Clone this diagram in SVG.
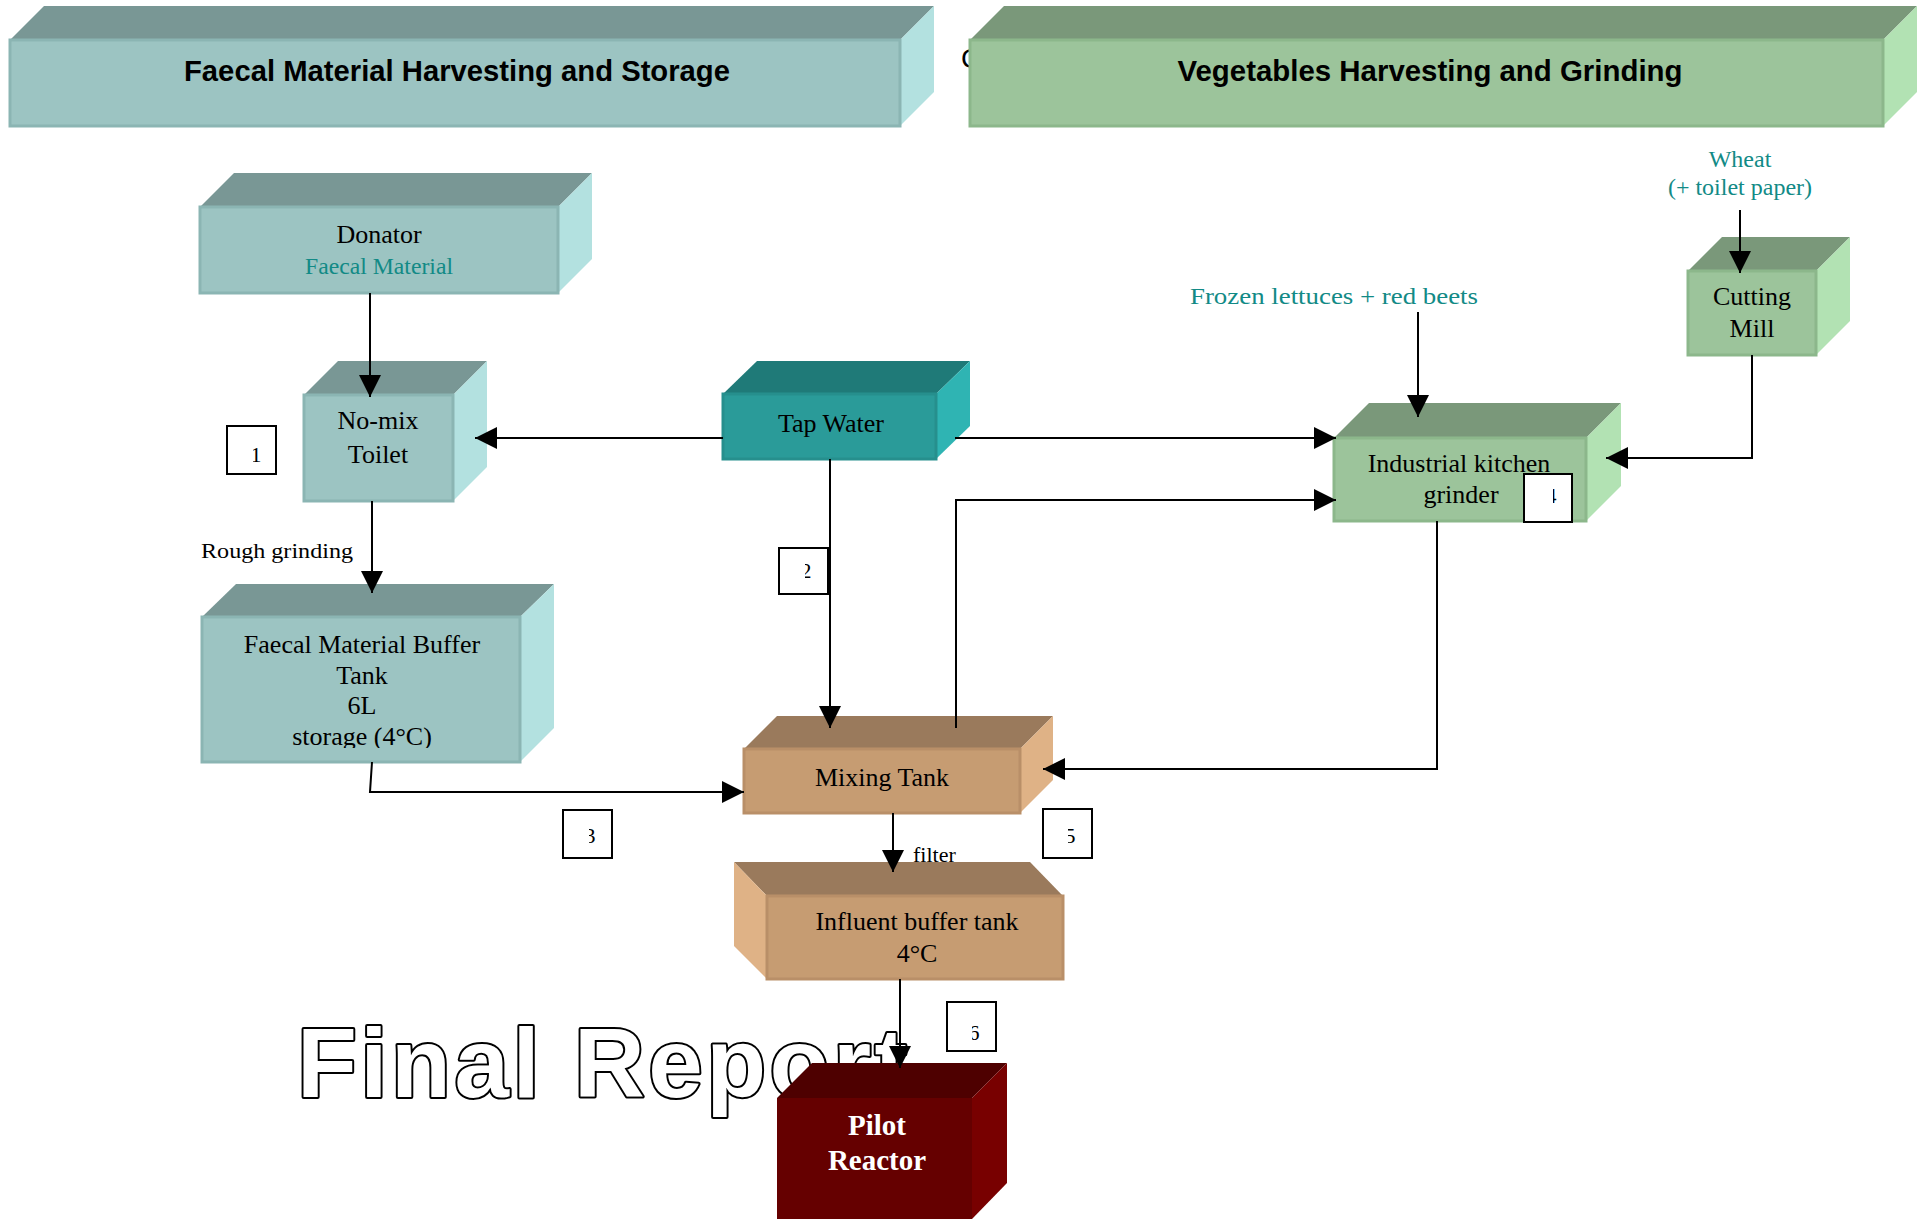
<svg xmlns="http://www.w3.org/2000/svg" width="1921" height="1219" viewBox="0 0 1921 1219">
<style>
.tf{fill:#9cc4c2;stroke:#8bb5b3;stroke-width:3}
.tt{fill:#799795}
.ts{fill:#b3e1e0}
.gf{fill:#9cc49b;stroke:#8cb78b;stroke-width:3}
.gt{fill:#7a987a}
.gs{fill:#b2e2b3}
.wf{fill:#2a9b99;stroke:#268f8d;stroke-width:3}
.wt{fill:#1f7a78}
.ws{fill:#2fb4b3}
.bf{fill:#c69c72;stroke:#b98f68;stroke-width:3}
.bt{fill:#9a7a5c}
.bs{fill:#dfb286}
.pf{fill:#650000}
.pt{fill:#4e0000}
.ps{fill:#780000}
.hd{font-family:"Liberation Sans",Arial,sans-serif;font-weight:bold;font-size:29px;fill:#000;text-anchor:middle}
.lb{font-family:"Liberation Serif","Times New Roman",serif;font-size:26px;fill:#000;text-anchor:middle}
.tl{font-family:"Liberation Serif","Times New Roman",serif;font-size:24px;fill:#128a86;text-anchor:middle}
.sm{font-family:"Liberation Serif","Times New Roman",serif;font-size:22px;fill:#000}
.nb{fill:#fff;stroke:#000;stroke-width:2}
.dg{font-family:"Liberation Serif","Times New Roman",serif;font-size:22px;fill:#000;text-anchor:middle}
.cn{fill:none;stroke:#000;stroke-width:2;marker-end:url(#ah)}
</style>
<defs>
<marker id="ah" markerUnits="userSpaceOnUse" markerWidth="22" markerHeight="22" refX="22" refY="11" orient="auto" viewBox="0 0 22 22">
<path d="M0,0 L22,11 L0,22 z" fill="#000"/>
</marker>
<clipPath id="c1"><rect x="253" y="420" width="30" height="60"/></clipPath>
<clipPath id="c2"><rect x="805" y="540" width="30" height="60"/></clipPath>
<clipPath id="c3"><rect x="589" y="805" width="30" height="60"/></clipPath>
<clipPath id="c4"><rect x="1553" y="470" width="30" height="60"/></clipPath>
<clipPath id="c5"><rect x="1068" y="805" width="30" height="60"/></clipPath>
<clipPath id="c6"><rect x="972" y="998" width="30" height="60"/></clipPath>
<clipPath id="cfm"><rect x="200" y="600" width="360" height="148"/></clipPath>
</defs>
<rect width="1921" height="1219" fill="#fff"/>

<text x="297" y="1097" font-family="'Liberation Sans',Arial,sans-serif" font-weight="bold" font-size="98" letter-spacing="3.5" fill="#fff" stroke="#000" stroke-width="4" stroke-linejoin="round" paint-order="stroke">Final Report</text>

<text x="961" y="68" font-family="'Liberation Sans',Arial,sans-serif" font-size="28" fill="#000">C</text>

<g id="hdr-faecal">
<polygon class="tt" points="10,40 44,6 934,6 900,40"/>
<polygon class="ts" points="900,40 934,6 934,92 900,126"/>
<rect class="tf" x="10" y="40" width="890" height="86"/>
<text class="hd" x="457" y="81" textLength="546" lengthAdjust="spacingAndGlyphs">Faecal Material Harvesting and Storage</text>
</g>

<g id="hdr-veg">
<polygon class="gt" points="970,40 1004,6 1917,6 1883,40"/>
<polygon class="gs" points="1883,40 1917,6 1917,92 1883,126"/>
<rect class="gf" x="970" y="40" width="913" height="86"/>
<text class="hd" x="1430" y="81" textLength="505" lengthAdjust="spacingAndGlyphs">Vegetables Harvesting and Grinding</text>
</g>

<g id="donator">
<polygon class="tt" points="200,207 234,173 592,173 558,207"/>
<polygon class="ts" points="558,207 592,173 592,259 558,293"/>
<rect class="tf" x="200" y="207" width="358" height="86"/>
<text class="lb" x="379" y="243">Donator</text>
<text class="tl" x="379" y="274" font-size="25" textLength="148" lengthAdjust="spacingAndGlyphs">Faecal Material</text>
</g>

<g id="nomix">
<polygon class="tt" points="304,395 338,361 487,361 453,395"/>
<polygon class="ts" points="453,395 487,361 487,467 453,501"/>
<rect class="tf" x="304" y="395" width="149" height="106"/>
<text class="lb" x="378" y="429">No-mix</text>
<text class="lb" x="378" y="463">Toilet</text>
</g>

<g id="tapwater">
<polygon class="wt" points="723,394 757,361 970,361 936,394"/>
<polygon class="ws" points="936,394 970,361 970,426 936,459"/>
<rect class="wf" x="723" y="394" width="213" height="65"/>
<text class="lb" x="831" y="432">Tap Water</text>
</g>

<g id="buffer">
<polygon class="tt" points="202,617 236,584 554,584 520,617"/>
<polygon class="ts" points="520,617 554,584 554,728 520,762"/>
<rect class="tf" x="202" y="617" width="318" height="145"/>
<g clip-path="url(#cfm)">
<text class="lb" x="362" y="653">Faecal Material Buffer</text>
<text class="lb" x="362" y="684">Tank</text>
<text class="lb" x="362" y="714">6L</text>
<text class="lb" x="362" y="745">storage (4°C)</text>
</g>
</g>

<g id="cutting-mill">
<polygon class="gt" points="1688,271 1722,237 1850,237 1816,271"/>
<polygon class="gs" points="1816,271 1850,237 1850,321 1816,355"/>
<rect class="gf" x="1688" y="271" width="128" height="84"/>
<text class="lb" x="1752" y="305">Cutting</text>
<text class="lb" x="1752" y="337">Mill</text>
</g>

<g id="grinder">
<polygon class="gt" points="1334,438 1369,403 1621,403 1586,438"/>
<polygon class="gs" points="1586,438 1621,403 1621,486 1586,521"/>
<rect class="gf" x="1334" y="438" width="252" height="83"/>
<text class="lb" x="1459" y="472">Industrial kitchen</text>
<text class="lb" x="1461" y="503">grinder</text>
</g>

<g id="mixing">
<polygon class="bt" points="744,749 777,716 1053,716 1020,749"/>
<polygon class="bs" points="1020,749 1053,716 1053,780 1020,813"/>
<rect class="bf" x="744" y="749" width="276" height="64"/>
<text class="lb" x="882" y="786">Mixing Tank</text>
</g>

<g id="influent">
<polygon class="bt" points="734,862 1030,862 1063,896 767,896"/>
<polygon class="bs" points="734,862 767,896 767,979 734,946"/>
<rect class="bf" x="767" y="896" width="296" height="83"/>
<text class="lb" x="917" y="930">Influent buffer tank</text>
<text class="lb" x="917" y="962">4°C</text>
</g>

<g id="pilot">
<polygon class="pt" points="777,1098 812,1063 1007,1063 972,1098"/>
<polygon class="ps" points="972,1098 1007,1063 1007,1183 972,1219"/>
<rect class="pf" x="777" y="1098" width="195" height="125"/>
<text x="877" y="1135" font-family="'Liberation Serif','Times New Roman',serif" font-weight="bold" font-size="29" fill="#fff" text-anchor="middle">Pilot</text>
<text x="877" y="1170" font-family="'Liberation Serif','Times New Roman',serif" font-weight="bold" font-size="29" fill="#fff" text-anchor="middle">Reactor</text>
</g>

<g id="inputs">
<text class="tl" x="1334" y="304" font-size="25" textLength="288" lengthAdjust="spacingAndGlyphs">Frozen lettuces + red beets</text>
<text class="tl" x="1740" y="167" font-size="23">Wheat</text>
<text class="tl" x="1740" y="195" font-size="23">(+ toilet paper)</text>
</g>

<g id="connectors">
<path class="cn" d="M370,293 V397"/>
<path class="cn" d="M723,438 H475"/>
<path class="cn" d="M955,438 H1336"/>
<path class="cn" d="M830,459 V728"/>
<path class="cn" d="M956,728 V500 H1336"/>
<path class="cn" d="M1418,312 V417"/>
<path class="cn" d="M1740,210 V273"/>
<path class="cn" d="M1752,355 V458 H1606"/>
<path class="cn" d="M1437,521 V769 H1043"/>
<path class="cn" d="M372,501 V593"/>
<path class="cn" d="M372,762 L370,792 H744"/>
<path class="cn" d="M893,813 V872"/>
<path class="cn" d="M900,979 V1068"/>
<text class="sm" x="201" y="558" textLength="152" lengthAdjust="spacingAndGlyphs">Rough grinding</text>
<text class="sm" x="913" y="862">filter</text>
</g>

<g id="step-numbers">
<rect class="nb" x="227" y="426" width="49" height="48"/>
<text class="dg" x="256" y="462" clip-path="url(#c1)">1</text>
<rect class="nb" x="779" y="548" width="49" height="46"/>
<text class="dg" x="806" y="578" clip-path="url(#c2)">2</text>
<rect class="nb" x="563" y="810" width="49" height="48"/>
<text class="dg" x="590" y="843" clip-path="url(#c3)">3</text>
<rect class="nb" x="1524" y="474" width="48" height="48"/>
<text class="dg" x="1551" y="503" clip-path="url(#c4)">4</text>
<rect class="nb" x="1043" y="809" width="49" height="49"/>
<text class="dg" x="1070" y="843" clip-path="url(#c5)">5</text>
<rect class="nb" x="947" y="1002" width="49" height="49"/>
<text class="dg" x="974" y="1040" clip-path="url(#c6)">6</text>
</g>
</svg>
